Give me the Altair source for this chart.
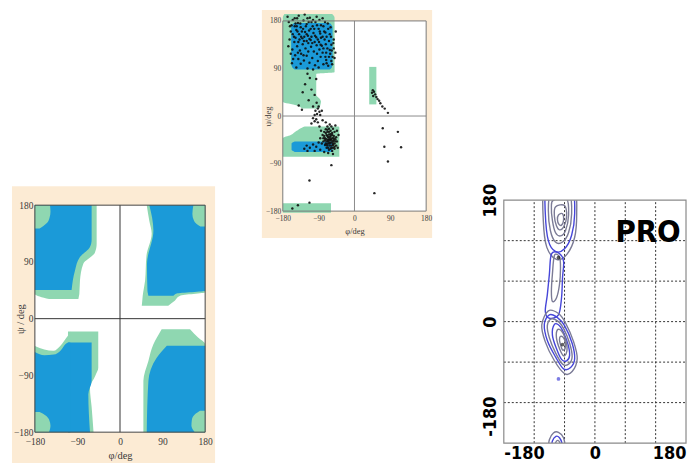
import altair as alt
import pandas as pd

SERIF = "Liberation Serif, Times New Roman, serif"
NARROW = "Liberation Sans Narrow, DejaVu Sans Condensed, Arial Narrow, sans-serif"
BEIGE = "#fcebd4"
BLUE = "#1b9ad8"
GREEN = "#8fd7b1"
TICKS = [-180, -90, 0, 90, 180]

# ---------------- left panel: allowed regions (psi rows: phi_from, phi_to) ----------------
L_GREEN_BANDS = {
    "tl": ([31, 35, 39, 60, 87, 105, 119, 180], [-150, -170, -180, -180, -180, -180, -180, -180], [-88, -87, -86, -84.7, -77.6, -53, -49.4, -49.4]),
    "tr": ([20.5, 28, 36.4, 41.7, 60, 100, 135, 155, 180], [46, 47, 48, 49, 53, 56, 67, 62, 56.5], [102, 115, 127, 180, 180, 180, 180, 180, 180]),
    "bl": ([-180, -140, -110, -90, -78, -20.5], [-110, -110, -110, -110, -110, -110], [-56, -60, -63.5, -52, -46, -46]),
    "br": ([-180, -99, -67, -40.7, -30, -16.8], [49.4, 49.4, 60, 70.6, 78, 88], [180, 180, 180, 180, 165, 148]),
}
L_GREEN_COLS = {
    "bl": ([-180, -160, -141, -125, -113, -106, -105], [-180] * 7, [-43.4, -49, -51, -42, -30, -22, -20.5]),
}
L_BLUE_BANDS = {
    "tl": ([45.5, 76, 97.6, 113.5, 125, 180], [-180] * 6, [-102.4, -95.3, -84.7, -63.5, -60, -60]),
    "tr": ([36.4, 40, 44.4, 87, 140, 180], [60, 59, 58, 57, 70.6, 62], [113, 120, 180, 180, 180, 180]),
    "bl": ([-180, -120, -99, -38], [-110] * 4, [-63.5, -67, -60, -60]),
    "br": ([-180, -99, -62, -43], [56.5, 60, 77.6, 99], [180] * 4),
}
L_BLUE_COLS = {
    "bl": ([-180, -160, -140, -125, -115, -108, -105], [-180] * 7, [-53, -58, -57, -50, -40, -38, -38]),
}
L_CORNER_BANDS = {
    "tl": ([143, 147, 152, 160, 170, 180], [-180] * 6, [-170, -162, -154, -149, -147, -148]),
    "tr": ([146, 150, 156, 166, 180], [170, 162, 156, 153, 155], [180] * 5),
    "bl": ([-180, -170, -160, -153, -148], [-180] * 5, [-150, -147, -150, -158, -170]),
    "br": ([-180, -170, -160, -152, -146], [158, 151, 152, 158, 169], [180] * 5),
}

# ---------------- middle panel: observed map ----------------
M_GREEN_BANDS = {
    "tl": ([14, 20, 27, 33, 40, 80, 83, 186, 193], [-130, -145, -180, -180, -180, -180, -180, -180, -176], [-88, -86, -84, -88, -96, -96, -50, -50, -56]),
    "tr": ([22, 93], [37, 37], [55, 55]),
    "bl": ([-77, -42, -36, -28, -22, -20], [-180, -180, -160, -145, -132, -125], [-38, -38, -38, -38, -38, -40]),
    "bot": ([-183, -165], [-180, -180], [-59, -59]),
}
M_BLUE_BANDS = {
    "tl": ([88, 92, 100, 168, 172, 176], [-150, -156, -159, -159, -157, -152], [-62, -57, -55, -55, -57, -62]),
    "bl": ([-68, -64, -52, -48], [-150, -158, -158, -150], [-55, -55, -55, -55]),
}
M_PHI = [-165, -158, -150, -142, -135, -128, -120, -112, -105, -98, -90, -84, -76, -70, -64, -58, -52, -48, -55, -62,
         -160, -152, -146, -139, -131, -124, -117, -110, -103, -96, -89, -82, -75, -68, -61, -73, -80, -88, -95, -102,
         -109, -116, -123, -130, -137, -144, -151, -156, -149, -141, -134, -127, -120, -113, -106, -99, -92, -85, -78, -71,
         -163, -157, -146, -135, -118, -104, -90, -66, -58, -52, -47, -60, -67, -80, -95, -125, -140, -168, -155, -145,
         -138, -126, -114, -100, -86, -78, -108, -132, -120, -94, -84, -72, -116, -128, -142, -154, -160, -166, -148, -110,
         -150, -143, -136, -129, -122, -115, -108, -101, -94, -87, -80, -73, -66, -59, -53, -57, -64, -71, -78, -85,
         -92, -99, -106, -113, -120, -127, -134, -141, -148, -155, -162, -144, -118, -104, -88, -74, -62, -50, -56, -70,
         -118, -112, -96, -124, -108, -130, -100, -115, -95, -104, -92, -98, -88, -94, -86, -100, -82, -90, -140, -132,
         -72, -68, -64, -60, -56, -52, -58, -62, -66, -70, -74, -70, -66, -62, -58, -54, -50, -48, -52, -56,
         -60, -64, -68, -76, -80, -78, -74, -70, -64, -56, -50, -46, -44, -46, -50, -54, -58, -62, -84, -88,
         -92, -96, -100, -104, -108, -86, -82, -90, -96, -104, -112, -120, -126, -118, -100, -86, -76, -66, -54, -42,
         -40, -44, -48, -72, -80, -66, -60, -54, -68, -62,
         -70, -66, -62, -58, -54, -60, -64, -68, -72, -76, -56, -52, -48, -50, -60, -66, -72, -78, -62, -58,
         -54, -64, -68, -74, -70,
         -58, -113, -113, -142, -156,
         46, 44, 49, 52, 47, 55, 58, 62, 65, 70, 76, 84, 71, 109, 75, 117, 84, 50]
M_PSI = [178, 172, 185, 176, 168, 181, 174, 186, 170, 178, 165, 172, 160, 150, 142, 135, 128, 120, 112, 125,
         160, 150, 163, 155, 147, 159, 152, 144, 157, 149, 140, 133, 145, 128, 118, 112, 120, 126, 134, 122,
         131, 138, 128, 136, 124, 132, 140, 126, 115, 108, 118, 105, 114, 101, 110, 96, 104, 112, 98, 106,
         145, 100, 92, 99, 90, 88, 92, 95, 104, 145, 160, 168, 175, 185, 188, 192, 190, 188, 182, 170,
         145, 150, 162, 140, 156, 170, 178, 160, 142, 118, 148, 136, 122, 115, 120, 108, 118, 132, 175, 165,
         170, 160, 175, 165, 170, 178, 150, 165, 172, 160, 150, 158, 165, 150, 138, 124, 112, 120, 128, 135,
         145, 152, 138, 146, 155, 142, 150, 140, 148, 155, 170, 185, 185, 182, 182, 178, 155, 110, 98, 100,
         80, 72, 70, 60, 50, 45, 40, 30, 25, 18, 14, 10, 8, 4, 2, 2, 10, 18, 20, 12,
         -25, -30, -35, -38, -42, -46, -50, -45, -40, -36, -42, -48, -52, -56, -60, -55, -52, -44, -38, -32,
         -28, -24, -20, -30, -36, -48, -55, -60, -64, -66, -62, -56, -48, -40, -30, -24, -20, -16, -28, -20,
         -12, -6, -10, -4, -14, -42, -52, -50, -58, -54, -60, -56, -62, -66, -66, -64, -68, -70, -72, -60,
         -36, -28, -18, -12, -8, -46, -44, -48, -56, -50,
         -44, -48, -52, -56, -60, -34, -30, -26, -32, -38, -36, -42, -48, -58, -62, -60, -52, -42, -40, -46,
         -52, -44, -38, -46, -54,
         -93, -122, -164, -169, -175,
         49, 44, 46, 41, 38, 36, 32, 29, 24, 18, 14, 6, -23, -30, -58, -59, -86, -146]

# ---------------- right panel: PRO contours ----------------
GRAY_C = "#7b7b96"
BLUE_C = "#4646d8"
R_CLOSED = {
    "t0": (GRAY_C, [-100, -70, -40, -36, -40, -55, -75, -95, -102], [200, 204, 200, 160, 125, 100, 92, 110, 150]),
    "t1": (BLUE_C, [-96, -70, -44, -40, -46, -60, -78, -92, -98], [195, 198, 195, 160, 128, 108, 104, 120, 160]),
    "t2": (GRAY_C, [-88, -70, -50, -46, -52, -64, -78, -88, -92], [190, 193, 190, 160, 132, 118, 118, 135, 165]),
    "t3": (GRAY_C, [-82, -56, -52, -58, -68, -78, -84, -86], [180, 182, 158, 135, 127, 132, 150, 170]),
    "t4": (GRAY_C, [-78, -60, -56, -62, -70, -76, -80], [170, 172, 155, 140, 136, 142, 156]),
    "t5": (GRAY_C, [-72, -64, -62, -66, -71, -74], [158, 160, 150, 143, 144, 151]),
    "c0": (BLUE_C, [-86, -90, -94, -98, -90, -72, -66, -64, -62, -72], [100, 70, 40, 15, 5, 10, 35, 65, 90, 102]),
    "c1": (GRAY_C, [-80, -84, -86, -84, -76, -70, -68, -70], [98, 70, 45, 30, 35, 55, 80, 96]),
    "m0": (GRAY_C, [-92, -72, -58, -42, -35, -45, -60, -80, -98, -105], [16, 12, -2, -30, -55, -74, -77, -58, -30, -5]),
    "m1": (BLUE_C, [-90, -74, -60, -45, -40, -48, -62, -78, -94, -100], [10, 6, -6, -32, -55, -68, -70, -52, -28, -4]),
    "m2": (GRAY_C, [-86, -72, -62, -50, -45, -52, -64, -78, -90, -94], [4, 0, -10, -32, -52, -63, -63, -46, -24, -6]),
    "m3": (BLUE_C, [-80, -70, -62, -53, -50, -56, -66, -76, -84], [-4, -6, -16, -34, -50, -58, -56, -40, -20]),
    "m4": (GRAY_C, [-74, -66, -59, -55, -57, -63, -70, -76], [-12, -14, -24, -38, -48, -50, -40, -24]),
    "m5": (GRAY_C, [-68, -62, -58, -59, -64, -68, -70], [-22, -24, -32, -40, -42, -34, -27]),
}
R_OPEN = {
    "b0": (GRAY_C, [-92, -90, -82, -72, -62, -58], [-190, -175, -165, -164, -172, -190]),
    "b1": (BLUE_C, [-86, -84, -77, -70, -65, -63], [-190, -177, -170, -172, -180, -190]),
    "b2": (GRAY_C, [-80, -78, -73, -68, -67], [-190, -180, -176, -182, -190]),
}
R_DOT_PHI = [-72, -64, -72]
R_DOT_PSI = [95, -34, -85]
R_DOT_COL = ["#111111", "#222222", BLUE_C]
R_LABEL = ("PRO", 105, 131)
R_GRID = [-180, -120, -60, 0, 60, 120, 180]
R_INNER = [-120, -60, 0, 60, 120]


def bands_df(d):
    rows = []
    for name, (psi, a, b) in d.items():
        for i, (p, x1, x2) in enumerate(zip(psi, a, b)):
            rows.append({"region": name, "i": i, "psi": p, "phi1": x1, "phi2": x2})
    return pd.DataFrame(rows)


def cols_df(d):
    rows = []
    for name, (phi, a, b) in d.items():
        for i, (p, y1, y2) in enumerate(zip(phi, a, b)):
            rows.append({"region": name, "i": i, "phi": p, "psi1": y1, "psi2": y2})
    return pd.DataFrame(rows)


def map_panel(width, height, xdom, ydom, box_top, ax, ay, green_b, green_c, blue_b, blue_c, corner_b,
              frame_color, zero_color, points=None):
    sx = alt.Scale(domain=xdom, nice=False, zero=False)
    sy = alt.Scale(domain=ydom, nice=False, zero=False)

    def X(f):
        return alt.X(f, type="quantitative", scale=sx, axis=ax)

    def Y(f):
        return alt.Y(f, type="quantitative", scale=sy, axis=ay)

    page = pd.DataFrame({"x1": [xdom[0]], "x2": [xdom[1]], "y1": [ydom[0]], "y2": [box_top]})
    box = pd.DataFrame({"x1": [-180], "x2": [180], "y1": [-180], "y2": [180]})
    layers = [
        alt.Chart(page).mark_rect(fill=BEIGE).encode(x=X("x1"), x2="x2", y=Y("y1"), y2="y2"),
        alt.Chart(box).mark_rect(fill="white").encode(x=X("x1"), x2="x2", y=Y("y1"), y2="y2"),
    ]

    def band_layer(d, color):
        return alt.Chart(bands_df(d)).mark_area(orient="horizontal", color=color, interpolate="monotone").encode(
            y=Y("psi"), x=X("phi1"), x2="phi2", detail="region:N")

    def col_layer(d, color):
        return alt.Chart(cols_df(d)).mark_area(orient="vertical", color=color, interpolate="monotone").encode(
            x=X("phi"), y=Y("psi1"), y2="psi2", detail="region:N")

    layers.append(band_layer(green_b, GREEN))
    if green_c:
        layers.append(col_layer(green_c, GREEN))
    layers.append(band_layer(blue_b, BLUE))
    if blue_c:
        layers.append(col_layer(blue_c, BLUE))
    if corner_b:
        layers.append(band_layer(corner_b, GREEN))
    vz = pd.DataFrame({"x": [0], "y1": [-180], "y2": [180]})
    hz = pd.DataFrame({"y": [0], "x1": [-180], "x2": [180]})
    layers.append(alt.Chart(vz).mark_rule(color=zero_color, strokeWidth=1).encode(x=X("x"), y=Y("y1"), y2="y2"))
    layers.append(alt.Chart(hz).mark_rule(color=zero_color, strokeWidth=1).encode(y=Y("y"), x=X("x1"), x2="x2"))
    if points is not None:
        layers.append(alt.Chart(points).mark_circle(size=6, color="#101010", opacity=0.9).encode(
            x=X("phi"), y=Y("psi")))
    layers.append(alt.Chart(box).mark_rect(fillOpacity=0, stroke=frame_color, strokeWidth=1).encode(
        x=X("x1"), x2="x2", y=Y("y1"), y2="y2"))
    return alt.layer(*layers).properties(width=width, height=height)


def serif_axis(title, offset, size, title_x, title_y, pad, vertical):
    kw = dict(values=TICKS, title=title, offset=offset, domain=False, ticks=False, grid=False, zindex=1,
              labelFont=SERIF, labelFontSize=size, labelColor="#3a3a3a", labelPadding=pad,
              labelFlush=False, labelOverlap=False,
              titleFont=SERIF, titleFontSize=size + 1, titleFontWeight="normal", titleColor="#3a3a3a",
              titleX=title_x, titleY=title_y, titleBaseline="middle", titleAlign="center")
    if vertical:
        kw["titleAngle"] = 270
    return alt.Axis(**kw)


# left panel view spans page y 8..463 (box 185..463, plot 204..432)
left = map_panel(
    204, 455, [-228.4, 201], [-228.9, 489.5], 210,
    serif_axis("φ/deg", -31, 9.5, 108.5, 23, 4, False),
    serif_axis("ψ / deg", -23, 9.5, -14, 310, 2, True),
    L_GREEN_BANDS, L_GREEN_COLS, L_BLUE_BANDS, L_BLUE_COLS, L_CORNER_BANDS, "#444444", "#333333")

# middle panel view spans page y 8..237 (plot 19..210)
middle = map_panel(
    171, 229, [-232.5, 195], [-230.9, 200.7], 200.7,
    serif_axis("φ/deg", -27, 7.5, 93, 19, 3, False),
    serif_axis("ψ/deg", -21, 7.5, -15, 106.5, 2, True),
    M_GREEN_BANDS, None, M_BLUE_BANDS, None, None, "#7a7a7a", "#8a8a8a",
    points=pd.DataFrame({"phi": M_PHI, "psi": M_PSI}))

# right panel view spans page y 8..443 (plot 199..443)
R_TOP = 461.8
rx = alt.Scale(domain=[-180, 180], nice=False, zero=False)
ry = alt.Scale(domain=[-180, R_TOP], nice=False, zero=False)
lab = "datum.value == 0 ? '0' : (datum.value == 180 ? '180' : (datum.value == -180 ? '-180' : ''))"
rax = alt.Axis(values=R_GRID, labelExpr=lab, grid=False, domain=False, ticks=False, title=None,
               labelFont=NARROW, labelFontWeight="bold", labelFontSize=18, labelColor="black",
               labelPadding=1, labelFlush=True, labelOverlap=False)
ray = alt.Axis(values=R_GRID, labelExpr=lab, grid=False, domain=False, ticks=False, title=None,
               labelFont=NARROW, labelFontWeight="bold", labelFontSize=18, labelColor="black",
               labelPadding=4, labelAngle=270, labelOverlap=False,
               labelOffset={"condition": {"test": "datum.value == -180", "value": -27}, "value": 0})


def RX(f):
    return alt.X(f, type="quantitative", scale=rx, axis=rax)


def RY(f):
    return alt.Y(f, type="quantitative", scale=ry, axis=ray)


def contour_df(d):
    rows = []
    for name, (col, phi, psi) in d.items():
        for i, (p, q) in enumerate(zip(phi, psi)):
            rows.append({"name": name, "col": col, "i": i, "phi": p, "psi": q})
    return pd.DataFrame(rows)


rbox = pd.DataFrame({"x1": [-180], "x2": [180], "y1": [-180], "y2": [180]})
rmask = pd.DataFrame({"x1": [-180], "x2": [180], "y1": [180], "y2": [R_TOP]})
vgrid = pd.DataFrame({"x": R_INNER, "y1": [-180] * 5, "y2": [180] * 5})
hgrid = pd.DataFrame({"y": R_INNER, "x1": [-180] * 5, "x2": [180] * 5})
r_layers = [
    alt.Chart(vgrid).mark_rule(color="#333333", strokeDash=[2, 2], strokeWidth=1).encode(
        x=RX("x"), y=RY("y1"), y2="y2"),
    alt.Chart(hgrid).mark_rule(color="#333333", strokeDash=[2, 2], strokeWidth=1).encode(
        y=RY("y"), x=RX("x1"), x2="x2"),
    alt.Chart(contour_df(R_CLOSED)).mark_line(interpolate="cardinal-closed", strokeWidth=1.4, clip=True).encode(
        x=RX("phi"), y=RY("psi"), color=alt.Color("col:N", scale=None), detail="name:N", order="i:Q"),
    alt.Chart(contour_df(R_OPEN)).mark_line(interpolate="cardinal", strokeWidth=1.4, clip=True).encode(
        x=RX("phi"), y=RY("psi"), color=alt.Color("col:N", scale=None), detail="name:N", order="i:Q"),
    alt.Chart(pd.DataFrame({"phi": R_DOT_PHI, "psi": R_DOT_PSI, "col": R_DOT_COL})).mark_circle(size=14).encode(
        x=RX("phi"), y=RY("psi"), color=alt.Color("col:N", scale=None)),
    alt.Chart(rmask).mark_rect(fill="white").encode(x=RX("x1"), x2="x2", y=RY("y1"), y2="y2"),
    alt.Chart(pd.DataFrame({"t": [R_LABEL[0]], "phi": [R_LABEL[1]], "psi": [R_LABEL[2]]})).mark_text(
        font=NARROW, fontWeight="bold", fontSize=31, color="black").encode(x=RX("phi"), y=RY("psi"), text="t:N"),
    alt.Chart(rbox).mark_rect(fillOpacity=0, stroke="#8a8a8a", strokeWidth=1.2).encode(
        x=RX("x1"), x2="x2", y=RY("y1"), y2="y2"),
]
right = alt.layer(*r_layers).properties(width=183, height=435)


def spacer(w, h):
    return alt.Chart(pd.DataFrame({"s": [0]})).mark_rect(opacity=0).encode(
        x=alt.value(0), x2=alt.value(1), y=alt.value(0), y2=alt.value(1)).properties(width=w, height=h)


chart = alt.hconcat(left, spacer(47, 1), middle, spacer(72, 1), right, spacing=0, bounds="flush").properties(
    padding={"left": 3, "top": 0, "right": 0, "bottom": 0}, background="white"
).configure_view(stroke="transparent", fill="transparent")

chart.save("out.html", embed_options={"renderer": "svg", "actions": False})
